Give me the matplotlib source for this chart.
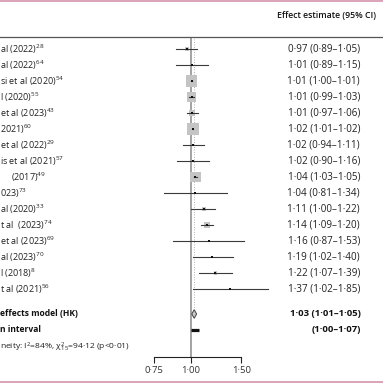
import numpy as np
import matplotlib
matplotlib.use("Agg")
import matplotlib.pyplot as plt
from matplotlib.transforms import blended_transform_factory
from matplotlib.patches import Polygon
from matplotlib.lines import Line2D

plt.rcParams['font.family'] = ['Open Sans', 'DejaVu Sans']
plt.rcParams['mathtext.fontset'] = 'custom'
plt.rcParams['mathtext.rm'] = 'Open Sans'
plt.rcParams['mathtext.it'] = 'Open Sans:italic'
plt.rcParams['mathtext.bf'] = 'Open Sans:bold'

# ---- data ----
labels = ["al (2022)$^{28}$", "al (2022)$^{64}$", "si et al (2020)$^{54}$", "l (2020)$^{55}$",
          "et al (2023)$^{43}$", "2021)$^{60}$", "et al (2022)$^{29}$", "is et al (2021)$^{57}$",
          " (2017)$^{49}$", "023)$^{73}$", "al (2020)$^{33}$", "t al  (2023)$^{74}$",
          "et al (2023)$^{69}$", "al (2023)$^{70}$", "l (2018)$^{8}$", "t al (2021)$^{56}$"]
est = [0.97, 1.01, 1.01, 1.01, 1.01, 1.02, 1.02, 1.02, 1.04, 1.04, 1.11, 1.14, 1.16, 1.19, 1.22, 1.37]
lo  = [0.89, 0.89, 1.00, 0.99, 0.97, 1.01, 0.94, 0.90, 1.03, 0.81, 1.00, 1.09, 0.87, 1.02, 1.07, 1.02]
hi  = [1.05, 1.15, 1.01, 1.03, 1.06, 1.02, 1.11, 1.16, 1.05, 1.34, 1.22, 1.20, 1.53, 1.40, 1.39, 1.85]
weight = [4, 2, 11, 9, 6, 11, 2, 2, 10, 2, 4, 6, 2, 2, 3, 2]   # box side (relative)
pooled_est, pooled_lo, pooled_hi = 1.03, 1.01, 1.05
pi_lo, pi_hi = 1.00, 1.07
pooled_label = "effects model (HK)"
pi_label = "n interval"
het_label = "neity: I$^2$=84%, χ$^2_{15}$=94·12 (p<0·01)"
xticks = [0.75, 1.00, 1.50]
xticklabels = ["0·75", "1·00", "1·50"]
header = "Effect estimate (95% CI)"

def fmt(v):
    return f"{v:.2f}".replace(".", "·")

W = H = 383.0
fig = plt.figure(figsize=(3.83, 3.83), dpi=100)

def fx(px): return px / W
def fy(py): return 1 - py / H

# forest axes (log scale)
ax = fig.add_axes([fx(100), fy(357), fx(290) - fx(100), fy(37) - fy(357)])
ax.set_xscale('log')
ax.set_xlim(np.exp((100 - 190.5) / 125.5), np.exp((290 - 190.5) / 125.5))
ax.set_ylim(19.25, -0.75)
for s in ['top', 'left', 'right']:
    ax.spines[s].set_visible(False)
ax.spines['bottom'].set_bounds(xticks[0], xticks[-1])
ax.spines['bottom'].set_color('#222222')
ax.spines['bottom'].set_linewidth(0.8)
ax.set_yticks([])
ax.set_xticks(xticks)
ax.set_xticklabels(xticklabels)
ax.xaxis.set_minor_locator(matplotlib.ticker.NullLocator())
ax.tick_params(axis='x', length=4.5, width=0.8, color='#222222', labelsize=6.8,
               labelcolor='#333333', pad=2)
ax.patch.set_alpha(0)

n = len(est)
rows = np.arange(n)
pooled_row = 16.5625
pi_row = 17.5625
het_row = 18.625

# reference lines
ax.axvline(1.0, color='#8a8a8a', lw=1.1, zorder=1)
ax.plot([pooled_est, pooled_est], [-0.6, pooled_row - 0.3], ls=(0, (1, 2)), color='#9a9a9a',
        lw=0.6, zorder=1)

# boxes
ax.scatter(est, rows, s=[(w * 0.74) ** 2 for w in weight], marker='s', color='#c4c4c4',
           edgecolors='none', zorder=2)
# CIs
for i in range(n):
    ax.plot([lo[i], hi[i]], [rows[i], rows[i]], color='#3a3a3a', lw=0.8, zorder=3)
ax.scatter(est, rows, s=2.0, marker='s', color='#111111', zorder=4, linewidths=0)

# pooled diamond
dia = Polygon([[pooled_lo, pooled_row], [pooled_est, pooled_row - 0.27],
               [pooled_hi, pooled_row], [pooled_est, pooled_row + 0.27]],
              closed=True, facecolor='#c8c8c8', edgecolor='#444444', lw=0.7, zorder=4)
ax.add_patch(dia)
# prediction interval
ax.plot([pi_lo, pi_hi], [pi_row, pi_row], color='#111111', lw=2.3, solid_capstyle='butt', zorder=4)

# texts
tr = blended_transform_factory(fig.transFigure, ax.transData)
fs_lab = 6.5
fs_num = 7.1
for i in range(n):
    x0 = fx(11) if labels[i].startswith(" (") else fx(0)
    ax.text(x0, rows[i], labels[i].lstrip(), transform=tr, ha='left', va='center',
            fontsize=fs_lab, color='#222222')
    ax.text(fx(360), rows[i], f"{fmt(est[i])} ({fmt(lo[i])}–{fmt(hi[i])})", transform=tr,
            ha='right', va='center', fontsize=fs_num, color='#222222')
ax.text(fx(0), pooled_row, pooled_label, transform=tr, ha='left', va='center', fontsize=6.1,
        fontweight='bold', color='#111111')
ax.text(fx(0), pi_row, pi_label, transform=tr, ha='left', va='center', fontsize=6.1,
        fontweight='bold', color='#111111')
ax.text(fx(0), het_row, het_label, transform=tr, ha='left', va='center', fontsize=6.1,
        color='#222222')
ax.text(fx(361), pooled_row, f"{fmt(pooled_est)} ({fmt(pooled_lo)}–{fmt(pooled_hi)})",
        transform=tr, ha='right', va='center', fontsize=6.8, fontweight='bold', color='#111111')
ax.text(fx(361), pi_row, f"({fmt(pi_lo)}–{fmt(pi_hi)})", transform=tr, ha='right', va='center',
        fontsize=6.8, fontweight='bold', color='#111111')

fig.text(fx(376), fy(15), header, ha='right', va='center', fontsize=6.3, fontweight='semibold',
         color='#111111')

# header rule and pink frame lines
fig.add_artist(Line2D([0, 1], [fy(37), fy(37)], color='#555555', lw=0.9))
fig.add_artist(Line2D([0, 1], [fy(1), fy(1)], color='#d9a2b8', lw=1.4))
fig.add_artist(Line2D([0, 1], [fy(381.5), fy(381.5)], color='#d9a2b8', lw=1.4))

fig.savefig("out.png", dpi=100)
